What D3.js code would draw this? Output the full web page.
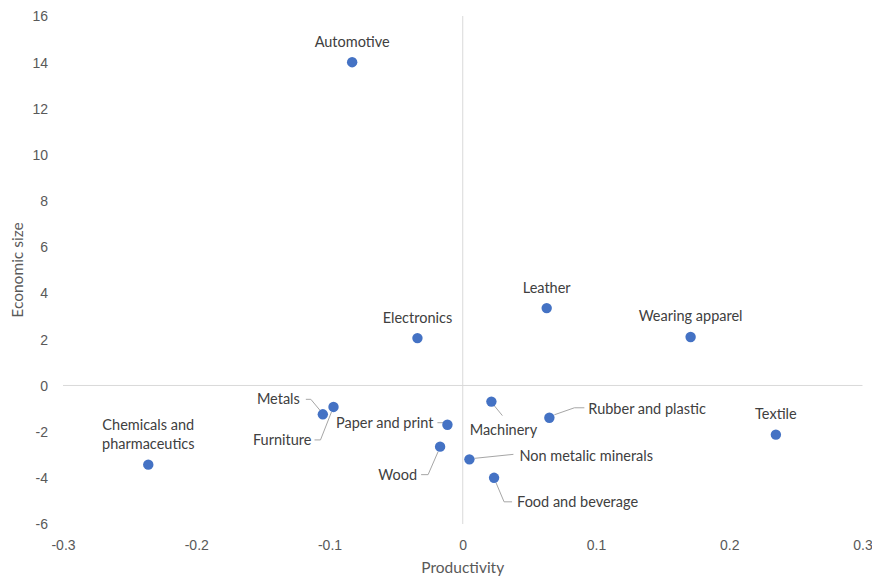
<!DOCTYPE html>
<html>
<head>
<meta charset="utf-8">
<script src="https://cdn.jsdelivr.net/npm/d3@7"></script>
<style>
  html, body { margin: 0; padding: 0; background: #fff; }
  svg { display: block; font-family: Lato, "Open Sans", sans-serif; }
</style>
</head>
<body>
<svg id="chart" width="872" height="579"></svg>
<script>
// Industry sectors: productivity vs. economic size
const sectors = [
  "Automotive", "Electronics", "Leather", "Wearing apparel", "Textile",
  "Chemicals and pharmaceutics", "Metals", "Furniture", "Paper and print",
  "Wood", "Machinery", "Rubber and plastic", "Non metalic minerals", "Food and beverage"
];
const productivity = [
  -0.083, -0.034, 0.063, 0.171, 0.235,
  -0.236, -0.105, -0.097, -0.0115,
  -0.017, 0.0215, 0.065, 0.005, 0.0235
];
const economicSize = [
  14.0, 2.05, 3.35, 2.1, -2.13,
  -3.43, -1.25, -0.93, -1.7,
  -2.65, -0.7, -1.4, -3.2, -4.0
];
const xTicks = [-0.3, -0.2, -0.1, 0, 0.1, 0.2, 0.3];
const yTicks = [-6, -4, -2, 0, 2, 4, 6, 8, 10, 12, 14, 16];

// Label placement relative to each marker (pixels): text offset, anchor, leader polyline
const labelLayout = {
  "Automotive":                  { dx: 0,   dy: -20, anchor: "middle" },
  "Electronics":                 { dx: 0,   dy: -20, anchor: "middle" },
  "Leather":                     { dx: 0,   dy: -20, anchor: "middle" },
  "Wearing apparel":             { dx: 0,   dy: -21, anchor: "middle" },
  "Textile":                     { dx: 0,   dy: -21, anchor: "middle" },
  "Chemicals and pharmaceutics": { dx: 0,   dy: -40, anchor: "middle", lines: ["Chemicals and", "pharmaceutics"] },
  "Metals":          { dx: -23, dy: -15, anchor: "end",    leader: [[-17,-15],[-12,-15],[-2,-3]] },
  "Furniture":       { dx: -22, dy: 33,  anchor: "end",    leader: [[-19,33],[-13,33],[-2,5]] },
  "Paper and print": { dx: -14, dy: -2,  anchor: "end",    leader: [[-10,-2],[-4,-2],[-1,0]] },
  "Wood":            { dx: -23, dy: 28,  anchor: "end",    leader: [[-19,28],[-12,28],[-2,5]] },
  "Machinery":       { dx: 12,  dy: 28,  anchor: "middle", leader: [[2,3],[11,14]] },
  "Rubber and plastic":   { dx: 39, dy: -9, anchor: "start", leader: [[35,-10],[25,-10],[5,-3]] },
  "Non metalic minerals": { dx: 50, dy: -3, anchor: "start", leader: [[44,-5],[5,-1]] },
  "Food and beverage":    { dx: 23, dy: 24, anchor: "start", leader: [[18,24],[10,24],[2,5]] }
};

const data = sectors.map((name, i) => ({ name, x: productivity[i], y: economicSize[i] }));

const svg = d3.select("#chart");
const plot = { left: 63, right: 862.5, top: 16, bottom: 524 };

const x = d3.scaleLinear().domain([-0.3, 0.3]).range([plot.left, plot.right]);
const y = d3.scaleLinear().domain([-6, 16]).range([plot.bottom, plot.top]);

const axisColor = "#d9d9d9";
const tickColor = "#595959";
const labelColor = "#404040";

// Plain hyphen-minus for negative numbers
const hyphen = f => d => f(d).replace("\u2212", "-");

// Zero lines acting as the axes
svg.append("line")
  .attr("x1", x(-0.3)).attr("x2", x(0.3))
  .attr("y1", y(0)).attr("y2", y(0))
  .attr("stroke", axisColor).attr("stroke-width", 1);
svg.append("line")
  .attr("x1", x(0)).attr("x2", x(0))
  .attr("y1", y(16)).attr("y2", y(-6))
  .attr("stroke", axisColor).attr("stroke-width", 1);

// Y tick labels
const yAxis = d3.axisLeft(y).tickValues(yTicks).tickSize(0).tickPadding(0)
  .tickFormat(hyphen(d3.format("d")));
const gy = svg.append("g").attr("transform", `translate(${48},0)`).call(yAxis);
gy.select(".domain").remove();
gy.selectAll("text")
  .attr("fill", tickColor).style("font-size", "14px").attr("dy", "0.35em");

// X tick labels (placed at the bottom of the plot)
const xAxis = d3.axisBottom(x).tickValues(xTicks).tickSize(0).tickPadding(0)
  .tickFormat(d => d === 0 ? "0" : hyphen(d3.format(".1f"))(d));
const gx = svg.append("g").attr("transform", `translate(0,${545})`).call(xAxis);
gx.select(".domain").remove();
gx.selectAll("text")
  .attr("fill", tickColor).style("font-size", "14px").attr("dy", "0.35em");

// Axis titles
svg.append("text")
  .attr("x", x(0)).attr("y", 568).attr("dy", "0.35em")
  .attr("text-anchor", "middle").attr("fill", tickColor)
  .style("font-size", "15.5px").text("Productivity");
svg.append("text")
  .attr("transform", `translate(18,${(plot.top + plot.bottom) / 2}) rotate(-90)`)
  .attr("dy", "0.35em").attr("text-anchor", "middle").attr("fill", tickColor)
  .style("font-size", "15.5px").text("Economic size");

// Leader lines
const line = d3.line();
svg.append("g").selectAll("path")
  .data(data.filter(d => labelLayout[d.name].leader))
  .join("path")
  .attr("d", d => {
    const px = x(d.x), py = y(d.y);
    return line(labelLayout[d.name].leader.map(([a, b]) => [px + a, py + b]));
  })
  .attr("fill", "none").attr("stroke", "#a6a6a6").attr("stroke-width", 1);

// Markers
svg.append("g").selectAll("circle")
  .data(data).join("circle")
  .attr("cx", d => x(d.x)).attr("cy", d => y(d.y))
  .attr("r", 5.2).attr("fill", "#4472c4");

// Data labels
const labels = svg.append("g").selectAll("text")
  .data(data).join("text")
  .attr("x", d => x(d.x) + labelLayout[d.name].dx)
  .attr("y", d => y(d.y) + labelLayout[d.name].dy)
  .attr("text-anchor", d => labelLayout[d.name].anchor)
  .attr("fill", labelColor)
  .style("font-size", "14.5px");
labels.each(function (d) {
  const t = d3.select(this);
  const lines = labelLayout[d.name].lines || [d.name];
  lines.forEach((s, i) => {
    t.append("tspan")
      .attr("x", x(d.x) + labelLayout[d.name].dx)
      .attr("dy", i === 0 ? "0.35em" : "1.3em")
      .text(s);
  });
});
</script>
</body>
</html>
